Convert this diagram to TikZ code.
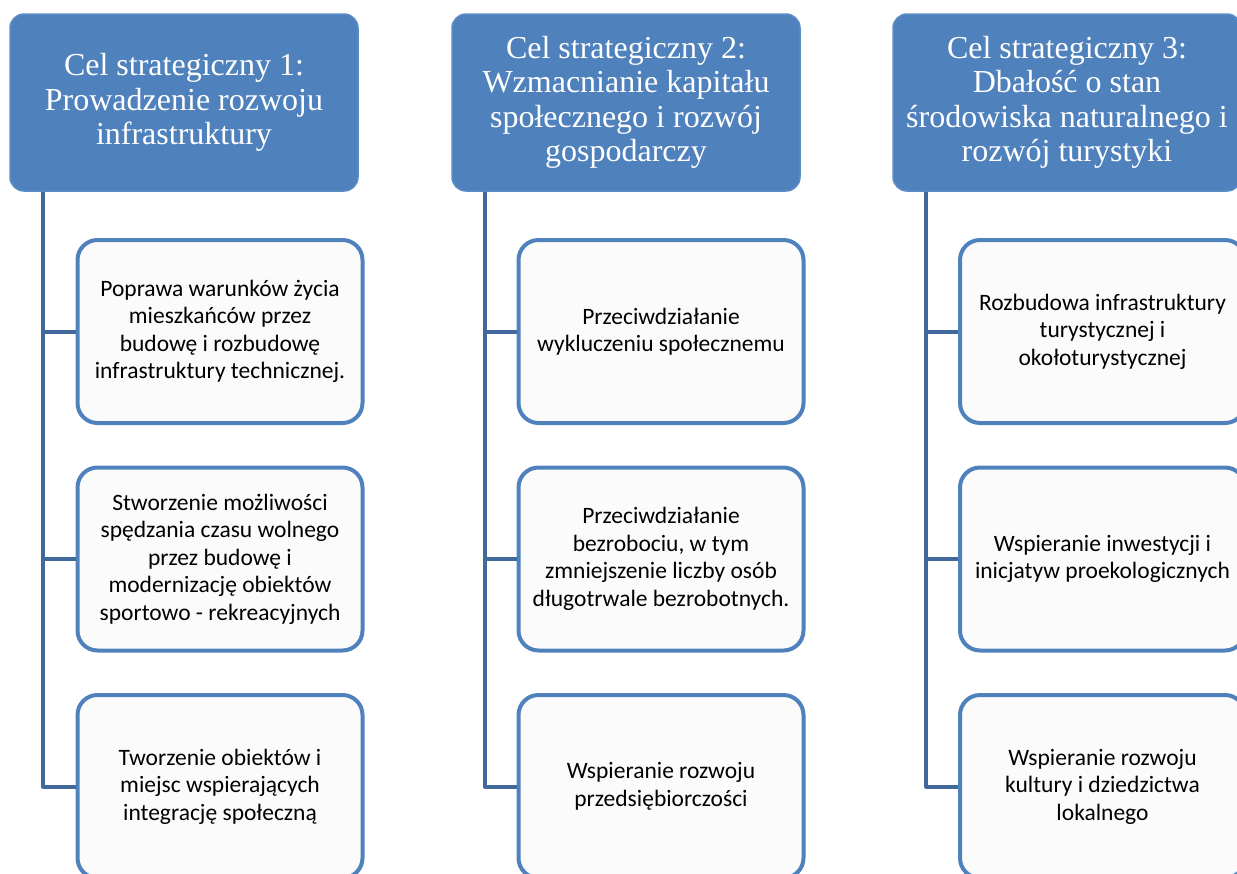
\documentclass[tikz,border=0pt]{standalone}
\usepackage{fontspec}
\setmainfont{Liberation Serif}
\newfontfamily\bodyfont{Carlito}
\usepackage{tikz}
\usetikzlibrary{positioning}
\definecolor{goalblue}{HTML}{4F81BD}
\definecolor{goaledge}{HTML}{5A8CC6}
\definecolor{linkblue}{HTML}{41699C}
\definecolor{taskfill}{HTML}{FBFBFB}

\begin{document}
\begin{tikzpicture}[line cap=round,line join=round,x=1pt,y=1pt,
    goal/.style={draw=goaledge, line width=1.5pt, fill=goalblue, rounded corners=14pt, minimum width=348pt, minimum height=177pt, text=white, align=center, font=\fontsize{32}{34.5}\selectfont, inner sep=0pt},
    task/.style={draw=goalblue, line width=4pt, fill=taskfill, rounded corners=20pt, minimum width=285pt, minimum height=183pt, align=center, font=\bodyfont\fontsize{23.5}{27.5}\selectfont, inner sep=0pt},
    link/.style={draw=linkblue, line width=4pt, line cap=butt}]
                    \useasboundingbox (0,0) rectangle (1237,-873);

                    \node[goal] (g1) at (184,-102.5) {Cel strategiczny 1:\\Prowadzenie rozwoju\\infrastruktury};
                    \node[goal] (g2) at (626,-102.5) {Cel strategiczny 2:\\Wzmacnianie kapitału\\społecznego i rozwój\\gospodarczy};
                    \node[goal] (g3) at (1067,-102.5) {Cel strategiczny 3:\\Dbałość o stan\\środowiska naturalnego i\\rozwój turystyki};

                    \node[task] (t11) at (220,-331.5) {Poprawa warunków życia\\mieszkańców przez\\budowę i rozbudowę\\infrastruktury technicznej.};
                    \node[task] (t12) at (220,-559) {Stworzenie możliwości\\spędzania czasu wolnego\\przez budowę i\\modernizację obiektów\\sportowo - rekreacyjnych};
                    \node[task] (t13) at (220,-786.5) {Tworzenie obiektów i\\miejsc wspierających\\integrację społeczną};

                    \node[task] (t21) at (661,-331.5) {Przeciwdziałanie\\wykluczeniu społecznemu};
                    \node[task] (t22) at (661,-559) {Przeciwdziałanie\\bezrobociu, w tym\\zmniejszenie liczby osób\\długotrwale bezrobotnych.};
                    \node[task] (t23) at (661,-786.5) {Wspieranie rozwoju\\przedsiębiorczości};

                    \node[task] (t31) at (1102.5,-331.5) {Rozbudowa infrastruktury\\turystycznej i\\okołoturystycznej};
                    \node[task] (t32) at (1102.5,-559) {Wspieranie inwestycji i\\inicjatyw proekologicznych};
                    \node[task] (t33) at (1102.5,-786.5) {Wspieranie rozwoju\\kultury i dziedzictwa\\lokalnego};

                    \foreach \g in {1,2,3}
                    \foreach \t in {1,2,3}
                        \draw[link] ([xshift=34pt]g\g.south west) |- (t\g\t.west);
                \end{tikzpicture}
\end{document}
